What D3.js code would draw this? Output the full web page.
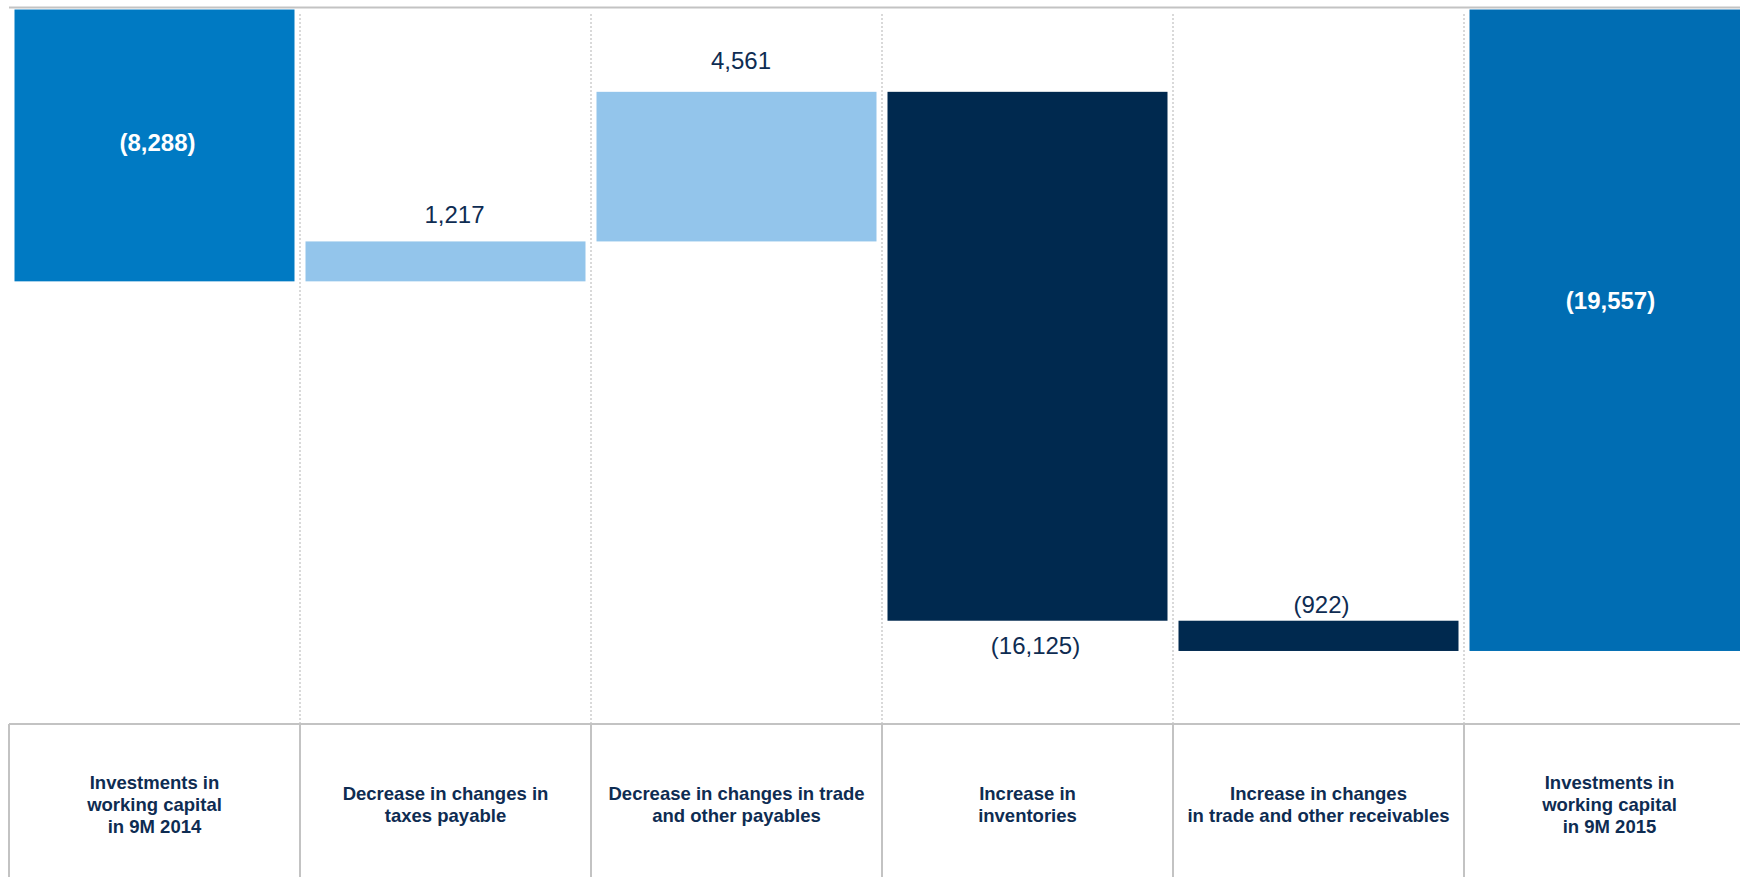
<!DOCTYPE html>
<html>
<head>
<meta charset="utf-8">
<script src="https://cdn.jsdelivr.net/npm/d3@7"></script>
<style>
  html, body { margin: 0; padding: 0; background: #ffffff; overflow: hidden; }
  svg { display: block; font-family: "Liberation Sans", Arial, sans-serif; }
</style>
</head>
<body>
<svg id="chart" width="1740" height="877"></svg>
<script>
// Working capital bridge, 9M 2014 -> 9M 2015
const categories = [
  "Investments in\nworking capital\nin 9M 2014",
  "Decrease in changes in\ntaxes payable",
  "Decrease in changes in trade\nand other payables",
  "Increase in\ninventories",
  "Increase in changes\nin trade and other receivables",
  "Investments in\nworking capital\nin 9M 2015"
];
const values = [-8288, 1217, 4561, -16125, -922, -19557];
const kinds  = ["total", "delta", "delta", "delta", "delta", "total"];
const yTicks = [-20000, 0];

// Appearance
const fills = ["#007AC3", "#93C5EB", "#93C5EB", "#00294F", "#00294F", "#006DB3"];
const labelAnchor = ["center", "top", "top", "bottom", "top", "center"];
const labelDy = [6, -18, -23, 33, -8, -21];
const labelDx = [3, 9, 4.5, 8, 3, 1];
const navy = "#0E2C52";
const grid = "#C3C3C3";

const svg = d3.select("#chart");

const colW = 291;
const x = d3.scaleBand()
  .domain(d3.range(categories.length))
  .range([9, 9 + colW * categories.length])
  .paddingInner(0).paddingOuter(0);

const y = d3.scaleLinear().domain(yTicks).range([665.5, 9.5]);

// running positions of each bar
let running = 0;
const bars = values.map((v, i) => {
  let lo, hi;
  if (kinds[i] === "total") {
    lo = Math.min(0, v); hi = Math.max(0, v);
    running = v;
  } else {
    const start = running, end = running + v;
    lo = Math.min(start, end); hi = Math.max(start, end);
    running = end;
  }
  return { i, v, lo, hi };
});

const tableTop = 724;

// dotted column separators in the plot area
svg.append("g").selectAll("line")
  .data(d3.range(1, categories.length))
  .join("line")
  .attr("x1", d => x(d)).attr("x2", d => x(d))
  .attr("y1", 14).attr("y2", tableTop)
  .attr("stroke", "#CDCDCD").attr("stroke-width", 1.5)
  .attr("stroke-dasharray", "2,2");

// top rule
svg.append("line")
  .attr("x1", 9).attr("x2", 1740)
  .attr("y1", 7.5).attr("y2", 7.5)
  .attr("stroke", grid).attr("stroke-width", 2);

// bars
const inset = 5.5;
svg.append("g").selectAll("rect")
  .data(bars)
  .join("rect")
  .attr("x", d => x(d.i) + inset)
  .attr("width", x.bandwidth() - 2 * inset)
  .attr("y", d => y(d.hi))
  .attr("height", d => y(d.lo) - y(d.hi))
  .attr("fill", d => fills[d.i]);

// value labels
const fmt = v => v < 0 ? "(" + d3.format(",")(-v) + ")" : d3.format(",")(v);
svg.append("g").selectAll("text")
  .data(bars)
  .join("text")
  .attr("x", d => x(d.i) + x.bandwidth() / 2 + labelDx[d.i])
  .attr("y", d => {
    const a = labelAnchor[d.i];
    const base = a === "top" ? y(d.hi) : a === "bottom" ? y(d.lo) : (y(d.hi) + y(d.lo)) / 2;
    return base + labelDy[d.i];
  })
  .attr("text-anchor", "middle")
  .attr("font-size", 24)
  .attr("font-weight", d => labelAnchor[d.i] === "center" ? "bold" : "normal")
  .attr("fill", d => labelAnchor[d.i] === "center" ? "#ffffff" : navy)
  .text(d => fmt(d.v));

// category table
svg.append("line")
  .attr("x1", 9).attr("x2", 1740)
  .attr("y1", tableTop).attr("y2", tableTop)
  .attr("stroke", grid).attr("stroke-width", 2);

svg.append("g").selectAll("line")
  .data(d3.range(0, categories.length))
  .join("line")
  .attr("x1", d => x(d)).attr("x2", d => x(d))
  .attr("y1", tableTop).attr("y2", 877)
  .attr("stroke", grid).attr("stroke-width", 2);

const lineH = 22.2;
const labelMid = 804.5;
const cat = svg.append("g").selectAll("text")
  .data(categories)
  .join("text")
  .attr("text-anchor", "middle")
  .attr("font-size", 18.5)
  .attr("font-weight", "bold")
  .attr("fill", navy);

cat.each(function(c, i) {
  const lines = c.split("\n");
  const t = d3.select(this);
  const cx = x(i) + x.bandwidth() / 2;
  lines.forEach((ln, k) => {
    t.append("tspan")
      .attr("x", cx)
      .attr("y", labelMid + (k - (lines.length - 1) / 2) * lineH)
      .attr("dy", "0.35em")
      .text(ln);
  });
});
</script>
</body>
</html>
